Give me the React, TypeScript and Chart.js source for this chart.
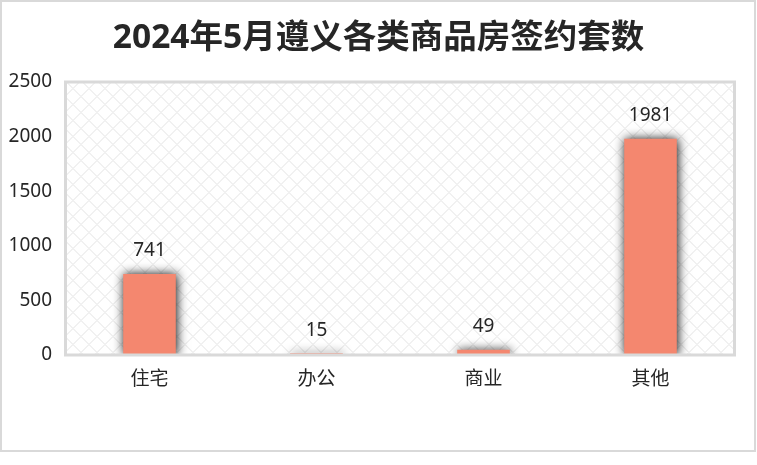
import React, { useEffect, useRef } from "react";
import { Chart, registerables } from "chart.js";

Chart.register(...registerables);

const TITLE = "2024年5月遵义各类商品房签约套数";
const categories = ["住宅", "办公", "商业", "其他"];
const values = [741, 15, 49, 1981];
const yMin = 0;
const yMax = 2500;
const yStep = 500;

const FONT = '"Noto Sans", "Noto Sans CJK SC", sans-serif';
const TEXT = "#262626";
const BAR = "#F4876F";
const BORDER = "#D9D9D9";

function makePattern(ctx: CanvasRenderingContext2D) {
  const size = 16;
  const c = document.createElement("canvas");
  c.width = size;
  c.height = size;
  const g = c.getContext("2d")!;
  g.fillStyle = "#ffffff";
  g.fillRect(0, 0, size, size);
  g.fillStyle = "#f1f1f1";
  for (let y = 0; y < size; y++) {
    for (let x = 0; x < size; x++) {
      const a = (x + y) % size;
      const b = (((x - y) % size) + size) % size;
      if (a < 2 || b < 2) g.fillRect(x, y, 1, 1);
    }
  }
  return ctx.createPattern(c, "repeat");
}

const decor = {
  id: "decor",
  beforeDraw(chart: any) {
    const { ctx, chartArea: a } = chart;
    ctx.save();
    ctx.fillStyle = "#ffffff";
    ctx.fillRect(0, 0, chart.width, chart.height);
    ctx.strokeStyle = BORDER;
    ctx.lineWidth = 2;
    ctx.strokeRect(1, 1, chart.width - 3, chart.height - 15);
    const p = makePattern(ctx);
    if (p) {
      ctx.fillStyle = p;
      ctx.fillRect(a.left, a.top, a.right - a.left, a.bottom - a.top);
    }
    ctx.fillStyle = TEXT;
    ctx.font = `bold 33.5px ${FONT}`;
    ctx.textAlign = "center";
    ctx.textBaseline = "middle";
    ctx.fillText(TITLE, chart.width / 2, 38);
    ctx.restore();
  },
  beforeDatasetsDraw(chart: any) {
    const ctx = chart.ctx;
    ctx.save();
    ctx.shadowColor = "rgba(0,0,0,0.95)";
    ctx.shadowBlur = 10;
    ctx.shadowOffsetX = 1;
    ctx.shadowOffsetY = 0;
  },
  afterDatasetsDraw(chart: any) {
    const { ctx, chartArea: a } = chart;
    ctx.restore();
    ctx.save();
    ctx.strokeStyle = BORDER;
    ctx.lineWidth = 3;
    ctx.strokeRect(a.left - 0.5, a.top, a.right - a.left + 1, a.bottom - a.top);
    ctx.fillStyle = TEXT;
    ctx.font = `19px ${FONT}`;
    ctx.textAlign = "center";
    ctx.textBaseline = "middle";
    const meta = chart.getDatasetMeta(0);
    meta.data.forEach((el: any, i: number) => {
      ctx.fillText(String(values[i]), el.x, el.y - 23);
    });
    ctx.restore();
  },
};

export default function App() {
  const ref = useRef<HTMLCanvasElement>(null);
  useEffect(() => {
    if (!ref.current) return;
    const chart = new Chart(ref.current, {
      type: "bar",
      data: {
        labels: categories,
        datasets: [
          {
            data: values,
            backgroundColor: BAR,
            borderWidth: 0,
            barPercentage: 0.315,
            categoryPercentage: 1,
          },
        ],
      },
      options: {
        animation: false,
        responsive: false,
        events: [],
        layout: { padding: { left: 0, right: 23, top: 82, bottom: 0 } },
        plugins: {
          legend: { display: false },
          tooltip: { enabled: false },
          title: { display: false },
        },
        scales: {
          x: {
            grid: { display: false, drawTicks: false },
            border: { display: false },
            ticks: {
              color: TEXT,
              font: { family: FONT, size: 19 },
              padding: 13,
              maxRotation: 0,
            },
            afterFit(scale: any) {
              scale.height = 110;
            },
          },
          y: {
            min: yMin,
            max: yMax,
            grid: { display: false, drawTicks: false },
            border: { display: false },
            ticks: {
              stepSize: yStep,
              color: TEXT,
              font: { family: FONT, size: 19 },
              padding: 14,
              callback: (v: any) => String(v),
            },
            afterFit(scale: any) {
              scale.width = 66;
            },
          },
        },
      },
      plugins: [decor],
    });
    return () => chart.destroy();
  }, []);
  return (
    <div style={{ position: "absolute", left: 0, top: 0, width: 757, height: 465, background: "#fff" }}>
      <canvas ref={ref} width={757} height={465} style={{ display: "block" }} />
    </div>
  );
}
